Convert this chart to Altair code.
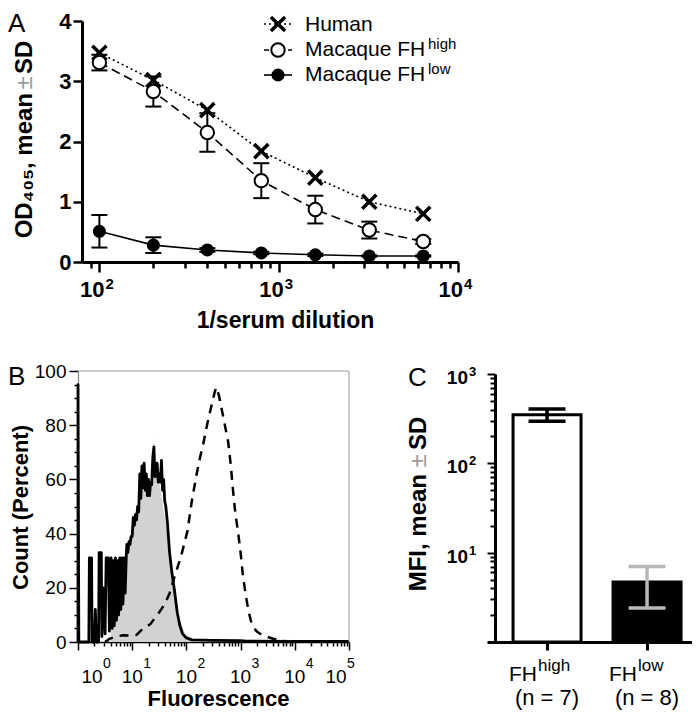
import altair as alt
import pandas as pd

FONT = "Liberation Sans"
W, H = 684, 703
SA = 6  # small downward shift of panel A texts (keeps top texts inside the canvas)

# ---------------- Panel A data (ELISA) ----------------
dilution = [100, 200, 400, 800, 1600, 3200, 6400]
human_od = [3.47, 3.02, 2.52, 1.84, 1.40, 1.00, 0.80]
fhhigh_od = [3.31, 2.83, 2.15, 1.35, 0.87, 0.53, 0.34]
fhhigh_sd = [0.13, 0.25, 0.32, 0.29, 0.23, 0.14, 0.04]
fhlow_od = [0.51, 0.28, 0.20, 0.15, 0.12, 0.10, 0.10]
fhlow_sd = [0.27, 0.13, 0.03, 0.02, 0.02, 0.01, 0.01]
a_decades = [100, 1000, 10000]
a_exps = ["2", "3", "4"]

# ---------------- Panel B data (flow histograms, log10 fluorescence) ----------------
LOGF_NEG = [0.60, 0.61, 0.70, 0.80, 0.86, 0.92, 1.00, 1.10, 1.19, 1.25, 1.32, 1.38, 1.41,
            1.44, 1.50, 1.60, 1.69, 1.78, 1.88, 1.97, 2.09, 2.30, 2.60]
CNT_NEG = [0, 4, 8, 12, 20, 33, 40, 47, 57, 56, 54, 59, 75, 62, 59, 46, 33, 19, 8, 3, 1.5, 0.5, 0]

LOGF_LOW = [0.00, 0.00, 0.015, 0.20, 0.21, 0.25, 0.26, 0.30, 0.32, 0.34, 0.38, 0.39, 0.43, 0.44,
            0.47, 0.50, 0.52, 0.56, 0.58, 0.61, 0.63, 0.65, 0.67, 0.69, 0.71, 0.73, 0.75, 0.77,
            0.79, 0.81, 0.83, 0.85, 0.87, 0.89, 0.90, 0.92, 0.94, 0.96, 0.98, 1.00, 1.02, 1.04,
            1.06, 1.08, 1.10, 1.12, 1.14, 1.16, 1.18, 1.20, 1.22, 1.24, 1.26, 1.28, 1.30, 1.32,
            1.34, 1.36, 1.38, 1.40, 1.42, 1.44, 1.46, 1.48, 1.50, 1.52, 1.54, 1.56, 1.58, 1.60,
            1.62, 1.65, 1.69, 1.73, 1.78, 1.83, 1.88, 1.93, 2.00, 2.10, 2.50, 3.00, 3.10, 4.00, 5.00]
CNT_LOW = [0, 95, 0, 0, 31, 31, 0, 0, 12, 0, 0, 33, 33, 2,
           20, 3, 31, 31, 4, 31, 5, 30, 6, 31, 8, 30, 10, 31,
           12, 31, 14, 31, 18, 31, 36, 33, 37, 36, 39, 39, 46, 43,
           47, 45, 50, 48, 62, 53, 65, 57, 66, 56, 62, 54, 60, 54,
           59, 58, 68, 72, 61, 64, 66, 59, 62, 59, 67, 56, 60, 52,
           50, 44, 33, 26, 19, 11, 6, 3, 1.5, 0.8, 0.6, 0.5, 0.3, 0.2, 0.2]

LOGF_HIGH = [0.50, 0.58, 0.70, 0.83, 1.00, 1.08, 1.20, 1.33, 1.50, 1.60, 1.69, 1.78, 1.90, 2.02,
             2.10, 2.18, 2.25, 2.31, 2.38, 2.46, 2.52, 2.55, 2.60, 2.64, 2.70, 2.77, 2.82, 2.86,
             2.90, 2.95, 3.00, 3.04, 3.09, 3.14, 3.20, 3.29, 3.40, 3.60, 3.78, 3.90]
CNT_HIGH = [0, 1.2, 2.0, 2.5, 2.3, 2.6, 5.0, 6.5, 11, 14, 18, 24, 31.5, 41,
            52, 61, 68, 73, 80, 87, 92, 94, 91, 87, 81, 74, 65, 56,
            48, 41, 33, 25, 18, 12, 7, 4, 2.5, 1.2, 0.4, 0]
b_decades = [1, 10, 100, 1000, 10000, 100000]
b_exps = ["0", "1", "2", "3", "4", "5"]

# ---------------- Panel C data (MFI bars) ----------------
groups = ["FHhigh", "FHlow"]
group_sup = ["high", "low"]
group_n = [7, 8]
mfi_mean = [350, 4.7]
mfi_sd = [55, 2.3]
c_decades = [10, 100, 1000]
c_exps = ["1", "2", "3"]

# ---------------- frames ----------------
dfA_h = pd.DataFrame({"d": dilution, "od": human_od})
dfA_hi = pd.DataFrame({"d": dilution, "od": fhhigh_od, "sd": fhhigh_sd})
dfA_lo = pd.DataFrame({"d": dilution, "od": fhlow_od, "sd": fhlow_sd})
for df in (dfA_hi, dfA_lo):
    df["lo"] = df["od"] - df["sd"]
    df["hi"] = df["od"] + df["sd"]
dfA_dec = pd.DataFrame({"v": a_decades, "e": a_exps})

dfB_neg = pd.DataFrame({"f": [10 ** v for v in LOGF_NEG], "c": CNT_NEG})
dfB_low = pd.DataFrame({"f": [10 ** v for v in LOGF_LOW], "c": CNT_LOW, "i": list(range(len(CNT_LOW)))})
dfB_high = pd.DataFrame({"f": [10 ** v for v in LOGF_HIGH], "c": CNT_HIGH, "i": list(range(len(CNT_HIGH)))})
dfB_dec = pd.DataFrame({"v": b_decades, "e": b_exps})

dfC = pd.DataFrame({"g": groups, "m": mfi_mean, "sd": mfi_sd, "sup": group_sup,
                    "n": ["(n = %d)" % k for k in group_n]})
dfC["lo"] = dfC["m"] - dfC["sd"]
dfC["hi"] = dfC["m"] + dfC["sd"]
dfC_dec = pd.DataFrame({"v": c_decades, "e": c_exps})

one = pd.DataFrame({"k": [0]})

def decade_test(vals):
    return "indexof([%s], datum.value) >= 0" % ",".join(str(v) for v in vals)

common_axis = dict(grid=False, tickColor="black", labelColor="black",
                   labelFont=FONT, titleFont=FONT, titleColor="black", labelOverlap=False)

# ---------------- Panel A ----------------
xa_ticks = [90, 100, 200, 300, 400, 500, 600, 700, 800, 900, 1000,
            2000, 3000, 4000, 5000, 6000, 7000, 8000, 9000, 10000]
xA = alt.Scale(type="log", domain=[80, 10000], range=[74, 450], nice=False)
yA = alt.Scale(domain=[0, 4], range=[254, 13], nice=False, zero=False)
axAx = alt.Axis(orient="bottom", offset=254 - H, values=xa_ticks, labels=False,
                tickSize={"condition": {"test": decade_test(a_decades), "value": 10}, "value": 6},
                tickWidth=2.5, domainWidth=3, domainColor="black",
                title="1/serum dilution", titleFontSize=23, titleFontWeight="bold",
                titleX=277, titleY=58, titleAlign="center", titleBaseline="middle", **common_axis)
axAy = alt.Axis(orient="left", offset=-74, values=[0, 1, 2, 3, 4], tickSize=9, tickWidth=2.5,
                domainWidth=3, domainColor="black", labelFontSize=22, labelFontWeight="bold",
                labelPadding=2, title=None, **common_axis)

def xa(f):
    return alt.X(f, type="quantitative", scale=xA, axis=axAx)

def ya(f):
    return alt.Y(f, type="quantitative", scale=yA, axis=axAy)

XPATH = "M-1,-1L1,1M-1,1L1,-1"

a_layers = [
    alt.Chart(dfA_h).mark_line(color="black", strokeWidth=1.6, strokeDash=[2, 3]).encode(x=xa("d"), y=ya("od")),
    alt.Chart(dfA_hi).mark_line(color="black", strokeWidth=1.6, strokeDash=[9, 5]).encode(x=xa("d"), y=ya("od")),
    alt.Chart(dfA_lo).mark_line(color="black", strokeWidth=1.6).encode(x=xa("d"), y=ya("od")),
]
for df in (dfA_hi, dfA_lo):
    a_layers.append(alt.Chart(df).mark_rule(color="black", strokeWidth=2).encode(x=xa("d"), y=ya("lo"), y2="hi"))
    for end in ("lo", "hi"):
        a_layers.append(alt.Chart(df).mark_tick(orient="horizontal", size=16, thickness=2, color="black",
                                               opacity=1).encode(x=xa("d"), y=ya(end)))
a_layers += [
    alt.Chart(dfA_h).mark_point(shape=XPATH, size=200, filled=False, color="black", strokeWidth=3.5,
                                opacity=1).encode(x=xa("d"), y=ya("od")),
    alt.Chart(dfA_hi).mark_point(shape="circle", size=180, fill="white", stroke="black", strokeWidth=2,
                                 opacity=1, fillOpacity=1).encode(x=xa("d"), y=ya("od")),
    alt.Chart(dfA_lo).mark_point(shape="circle", size=170, filled=True, color="black",
                                 opacity=1).encode(x=xa("d"), y=ya("od")),
    # tick labels 10^n
    alt.Chart(dfA_dec).mark_text(text="10", align="right", dx=5, baseline="alphabetic", font=FONT,
                                 fontSize=22, fontWeight="bold", color="black").encode(
        x=xa("v"), y=alt.value(289)),
    alt.Chart(dfA_dec).mark_text(align="left", dx=6, baseline="alphabetic", font=FONT,
                                 fontSize=15, fontWeight="bold", color="black").encode(
        x=xa("v"), y=alt.value(281), text="e:N"),
]
panelA = alt.layer(*a_layers)

# ---------------- Panel B ----------------
xb_ticks = []
for dec in b_decades[:-1]:
    xb_ticks += [dec * k for k in range(1, 10)]
xb_ticks.append(b_decades[-1])
xB = alt.Scale(type="log", domain=[1, 100000], range=[70, 341], nice=False)
yB = alt.Scale(domain=[0, 100], range=[634, 363], nice=False, zero=False)
axBx = alt.Axis(orient="bottom", offset=634 - H, values=xb_ticks, labels=False,
                tickSize={"condition": {"test": decade_test(b_decades), "value": 8}, "value": 4},
                tickWidth=1.5, domainWidth=1.5, domainColor="black",
                title="Fluorescence", titleFontSize=22, titleFontWeight="bold",
                titleX=210, titleY=63, titleAlign="center", titleBaseline="alphabetic", **common_axis)
axBy = alt.Axis(orient="left", offset=-70, values=list(range(0, 101, 5)),
                labelExpr="datum.value % 20 == 0 ? datum.label : ''",
                tickSize={"condition": {"test": "datum.value % 20 == 0", "value": 9}, "value": 4},
                tickWidth=1.5, domainWidth=1.2, domainColor="#888888", labelFontSize=19, labelPadding=3,
                title="Count (Percent)", titleFontSize=22, titleFontWeight="bold", titleAngle=270,
                titleX=-58, titleY=499, titleAlign="center", titleBaseline="middle", **common_axis)

def xb(f):
    return alt.X(f, type="quantitative", scale=xB, axis=axBx)

def yb(f):
    return alt.Y(f, type="quantitative", scale=yB, axis=axBy)

def b_label(filt, dx10, dxsup):
    base = alt.Chart(dfB_dec).transform_filter(filt)
    return [
        base.mark_text(text="10", align="center", dx=dx10, baseline="alphabetic", font=FONT,
                       fontSize=19, color="black").encode(x=xb("v"), y=alt.value(675)),
        base.mark_text(align="left", dx=dxsup, baseline="alphabetic", font=FONT,
                       fontSize=14, color="black").encode(x=xb("v"), y=alt.value(660), text="e:N"),
    ]

panelB = alt.layer(
    alt.Chart(dfB_neg).mark_area(color="#d2d2d2", opacity=1).encode(x=xb("f"), y=yb("c")),
    alt.Chart(dfB_high).mark_line(color="black", strokeWidth=2.5, strokeDash=[9, 7]).encode(
        x=xb("f"), y=yb("c"), order="i:Q"),
    alt.Chart(dfB_low).mark_line(color="black", strokeWidth=2.8, strokeJoin="round").encode(
        x=xb("f"), y=yb("c"), order="i:Q"),
    alt.Chart(one).mark_rule(color="#9a9a9a", strokeWidth=1).encode(
        x=alt.XDatum(1, type="quantitative", scale=xB, axis=axBx), x2=alt.X2Datum(100000),
        y=alt.YDatum(100, type="quantitative", scale=yB, axis=axBy)),
    alt.Chart(one).mark_rule(color="#9a9a9a", strokeWidth=1).encode(
        x=alt.XDatum(100000, type="quantitative", scale=xB, axis=axBx),
        y=alt.YDatum(0, type="quantitative", scale=yB, axis=axBy), y2=alt.Y2Datum(100)),
    *b_label("datum.v > 1 && datum.v < 100000", 0, 11),
    *b_label("datum.v == 1", 14, 25),
    *b_label("datum.v == 100000", -13, -2),
)

# ---------------- Panel C ----------------
yc_ticks = []
for dec in [1, 10, 100]:
    yc_ticks += [dec * k for k in range(1, 10)]
yc_ticks.append(1000)
xC = alt.Scale(domain=groups, range=[479, 689], paddingInner=0.32, paddingOuter=0.21, align=0.62)
yC = alt.Scale(type="log", domain=[1, 1000], range=[634, 366], nice=False)
axCx = alt.Axis(orient="bottom", offset=634 - H, labels=False, tickSize=8, tickWidth=3, domainWidth=3,
                domainColor="black", title=None, **common_axis)
axCy = alt.Axis(orient="left", offset=-487, values=yc_ticks, labels=False,
                tickSize={"condition": {"test": decade_test(c_decades), "value": 8}, "value": 5},
                tickWidth=2, domainWidth=3, domainColor="black", title=None, **common_axis)

def xc():
    return alt.X("g", type="nominal", scale=xC, axis=axCx)

def yc(f):
    return alt.Y(f, type="quantitative", scale=yC, axis=axCy)

err_color = alt.Color("g:N", scale=alt.Scale(domain=groups, range=["black", "#b8b8b8"]), legend=None)
panelC = alt.layer(
    alt.Chart(dfC).mark_bar(stroke="black", strokeWidth=3).encode(
        x=xc(), y=yc("m"), y2=alt.datum(1),
        fill=alt.Fill("g:N", scale=alt.Scale(domain=groups, range=["white", "black"]), legend=None)),
    alt.Chart(dfC).mark_rule(strokeWidth=3.5).encode(x=xc(), y=yc("lo"), y2="hi", color=err_color),
    alt.Chart(dfC).mark_tick(orient="horizontal", size=37, thickness=3.5, opacity=1).encode(
        x=xc(), y=yc("lo"), color=err_color),
    alt.Chart(dfC).mark_tick(orient="horizontal", size=37, thickness=3.5, opacity=1).encode(
        x=xc(), y=yc("hi"), color=err_color),
    alt.Chart(dfC).mark_text(text="FH", align="right", dx=-10, font=FONT, fontSize=21,
                             baseline="alphabetic", color="black").encode(x=xc(), y=alt.value(673)),
    alt.Chart(dfC).mark_text(align="left", dx=-9, font=FONT, fontSize=17,
                             baseline="alphabetic", color="black").encode(x=xc(), y=alt.value(663), text="sup:N"),
    alt.Chart(dfC).mark_text(align="center", font=FONT, fontSize=22,
                             baseline="alphabetic", color="black").encode(x=xc(), y=alt.value(697), text="n:N"),
    # y tick labels 10^n
    alt.Chart(dfC_dec).mark_text(text="10", align="right", dy=10, baseline="alphabetic", font=FONT,
                                 fontSize=19, fontWeight="bold", color="black").encode(
        x=alt.value(460), y=yc("v")),
    alt.Chart(dfC_dec).mark_text(align="left", dy=2, baseline="alphabetic", font=FONT,
                                 fontSize=13, fontWeight="bold", color="black").encode(
        x=alt.value(461), y=yc("v"), text="e:N"),
)

# ---------------- text & legend decorations ----------------
def label(text, x, y, size, weight="normal", align="left", baseline="alphabetic", angle=0, color="black"):
    return alt.Chart(one).mark_text(text=text, font=FONT, fontSize=size, fontWeight=weight, align=align,
                                    baseline=baseline, angle=angle, color=color).encode(
        x=alt.value(x), y=alt.value(y))

def seg(x1, x2, y, dash=None):
    kw = dict(color="black", strokeWidth=1.6)
    if dash:
        kw["strokeDash"] = dash
    return alt.Chart(one).mark_rule(**kw).encode(x=alt.value(x1), x2=alt.value(x2), y=alt.value(y))

decos = [
    label("A", 0, 24, 26),
    label("B", 0, 377, 26),
    label("C", 400, 378, 26),
    # panel A y title
    label("OD\u2084\u2080\u2085, mean", 17, 79 + SA, 24, "bold", "right", "middle", 270),
    label("\u00b1", 17, 69 + SA, 24, "normal", "center", "middle", 270, "#9a9a9a"),
    label("SD", 17, 60 + SA, 24, "bold", "left", "middle", 270),
    # panel C y title
    label("MFI, mean", 411, 466, 24, "bold", "right", "middle", 270),
    label("\u00b1", 411, 453, 24, "normal", "center", "middle", 270, "#9a9a9a"),
    label("SD", 411, 442, 24, "bold", "left", "middle", 270),
    # legend
    seg(256, 284, 10 + SA, [2, 3]),
    alt.Chart(one).mark_point(shape=XPATH, size=200, filled=False, color="black", strokeWidth=3.5,
                              opacity=1).encode(x=alt.value(270), y=alt.value(10 + SA)),
    seg(256, 284, 36 + SA, [5, 3]),
    alt.Chart(one).mark_point(shape="circle", size=180, fill="white", stroke="black", strokeWidth=2,
                              opacity=1, fillOpacity=1).encode(x=alt.value(270), y=alt.value(36 + SA)),
    seg(256, 284, 61 + SA),
    alt.Chart(one).mark_point(shape="circle", size=170, filled=True, color="black",
                              opacity=1).encode(x=alt.value(270), y=alt.value(61 + SA)),
    label("Human", 297, 17 + SA, 21),
    label("Macaque FH", 297, 42 + SA, 21),
    label("high", 420, 35 + SA, 15),
    label("Macaque FH", 297, 67 + SA, 21),
    label("low", 420, 60 + SA, 15),
]

chart = alt.layer(panelA, panelB, panelC, *decos).resolve_scale(
    x="independent", y="independent"
).properties(
    width=W, height=H, autosize=alt.AutoSizeParams(type="none"), padding=0
).configure_view(stroke=None)

chart.save("out.html", embed_options={"renderer": "svg", "actions": False})
